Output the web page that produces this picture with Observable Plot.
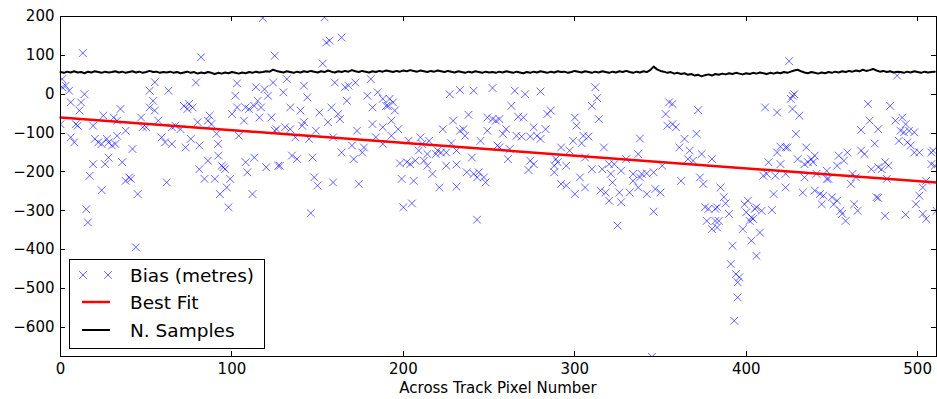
<!DOCTYPE html>
<html><head><meta charset="utf-8">
<script src="https://cdn.jsdelivr.net/npm/d3@7"></script>
<script src="https://cdn.jsdelivr.net/npm/@observablehq/plot@0.6"></script>
<style>
html,body{margin:0;padding:0;background:#fff;}
#chart{width:937px;height:399px;}
</style></head><body><div id="chart"></div>
<script>
const xTicks = [0, 100, 200, 300, 400, 500];
const yTicks = [-600, -500, -400, -300, -200, -100, 0, 100, 200];
const xLabel = "Across Track Pixel Number";
const legendLabels = ["Bias (metres)", "Best Fit", "N. Samples"];

// Best fit line end points
const fitX = [0, 511];
const fitY = [-60, -227];

// N. Samples, one value every 2 pixels (x = 0, 2, 4, ... 510)
const samplesN = [
 57,55,58,56,59,56,57,54,58,56,59,57,55,58,56,57,
 59,56,58,55,57,59,56,58,55,57,60,57,58,55,57,56,
 58,55,57,54,56,58,55,57,53,56,54,57,55,52,55,53,
 56,54,57,55,53,56,54,57,55,58,56,57,59,58,63,60,
 58,56,59,57,55,58,56,59,57,60,58,56,59,57,61,58,
 56,59,57,60,58,62,59,57,60,58,56,59,57,60,58,61,
 59,57,60,58,61,59,62,60,58,61,59,57,60,58,61,59,
 57,60,58,56,59,57,55,58,56,59,57,55,58,56,57,55,
 58,56,59,57,55,58,56,54,57,55,58,56,59,57,55,58,
 56,59,57,58,55,57,60,58,56,59,57,55,58,56,59,57,
 55,58,56,59,57,60,57,55,58,56,59,57,62,71,64,60,
 58,55,57,53,55,52,54,50,52,48,50,46,49,51,48,52,
 50,53,51,54,52,55,53,51,54,52,55,53,56,54,52,55,
 53,56,54,57,55,58,61,63,59,56,54,57,55,53,56,54,
 57,55,58,56,59,57,60,58,61,59,63,60,62,65,61,58,
 60,57,59,56,58,57,55,58,56,59,57,55,58,56,57,58
];

// Bias (metres): [pixel, bias]
const biasPoints = [
 [13,106],[1,39],[3,22],[5,9],[1,18],[6,-21],[0,-77],[9,-77],[10,-81],[11,-42],[12,-21],[14,0],[6,-111],[8,-124],[19,-81],[20,-115],[22,-124],[24,-128],[25,-55],[27,-115],[28,-124],[30,-132],[31,-60],[33,-68],[32,-128],[33,-107],[35,-38],[38,-94],[42,-141],[28,-163],[26,-180],[19,-180],[17,-210],[36,-175],[38,-223],[40,-214],[41,-218],[24,-247],[45,-257],[15,-296],[16,-330],[44,-394],[47,-60],[48,-85],[50,-85],[52,9],[52,-34],[54,-17],[55,-42],[55,31],[57,-68],[59,-111],[61,-124],[62,-227],[63,9],
 [118,196],[82,95],[125,99],[79,30],[103,28],[102,-4],[114,18],[119,13],[121,-4],[124,30],[72,-30],[75,-25],[77,-34],[74,-38],[103,-34],[108,-34],[110,-38],[113,-30],[117,-34],[115,-17],[100,-51],[107,-68],[116,-60],[123,-60],[87,-55],[86,-68],[80,-72],[67,-81],[70,-90],[65,-85],[88,-77],[91,-102],[104,-107],[126,-90],[65,-128],[73,-137],[76,-115],[81,-132],[92,-128],[92,-158],[86,-171],[81,-193],[84,-218],[90,-218],[94,-184],[96,-193],[95,-188],[99,-218],[93,-257],[97,-240],[98,-291],[108,-175],[109,-201],[113,-163],[120,-188],[127,-184],[112,-257],
 [154,198],[155,133],[157,138],[164,146],[153,79],[132,39],[142,22],[130,5],[144,-8],[160,30],[166,18],[168,22],[172,30],[181,39],[179,-4],[185,5],[188,-12],[190,-30],[134,-34],[140,-42],[151,-47],[158,-34],[162,-51],[163,-64],[167,-17],[182,-34],[156,-72],[142,-72],[141,-81],[131,-85],[134,-90],[125,-94],[137,-111],[145,-115],[149,-94],[159,-111],[173,-94],[182,-77],[188,-85],[184,-111],[188,-128],[164,-150],[170,-132],[177,-137],[176,-150],[171,-167],[135,-158],[138,-167],[147,-163],[128,-184],[148,-214],[150,-235],[159,-227],[174,-231],[146,-306],
 [227,0],[233,11],[241,9],[252,16],[192,-12],[194,-21],[195,-42],[193,-68],[191,-30],[197,-90],[193,-107],[238,-53],[229,-68],[249,-60],[252,-64],[254,-68],[223,-90],[233,-94],[235,-90],[236,-107],[245,-120],[249,-94],[203,-120],[210,-111],[211,-128],[215,-120],[220,-145],[228,-126],[231,-145],[209,-145],[214,-154],[219,-154],[222,-150],[225,-150],[240,-163],[256,-137],[198,-178],[202,-175],[204,-180],[207,-171],[212,-171],[214,-184],[217,-205],[225,-184],[231,-181],[237,-201],[241,-205],[244,-201],[247,-214],[243,-214],[248,-227],[199,-218],[206,-223],[221,-240],[231,-238],[200,-291],[205,-281],[243,-323],
 [312,18],[313,-10],[310,-30],[265,9],[271,0],[280,7],[263,-30],[284,-51],[286,-42],[267,-58],[270,-60],[256,-64],[300,-60],[301,-81],[314,-64],[260,-90],[258,-102],[276,-85],[283,-90],[266,-107],[269,-109],[274,-109],[278,-107],[280,-115],[305,-107],[308,-109],[299,-120],[304,-126],[255,-132],[262,-141],[261,-167],[292,-137],[297,-145],[306,-163],[317,-137],[274,-171],[276,-180],[273,-195],[289,-167],[288,-184],[290,-175],[295,-184],[288,-201],[310,-193],[316,-193],[303,-214],[292,-231],[295,-235],[300,-257],[306,-240],[315,-248],[318,-253],[320,-274],
 [357,-25],[355,-21],[372,-41],[353,-51],[354,-81],[357,-77],[359,-85],[338,-114],[337,-154],[364,-115],[371,-102],[361,-137],[367,-145],[366,-167],[369,-171],[374,-154],[380,-167],[351,-184],[320,-180],[323,-180],[330,-167],[327,-197],[334,-205],[338,-214],[339,-205],[342,-204],[346,-201],[321,-205],[322,-227],[326,-253],[327,-278],[332,-253],[334,-223],[337,-240],[342,-257],[347,-244],[350,-253],[362,-223],[373,-214],[375,-231],[346,-302],[325,-338],[376,-291],[378,-295],[382,-295],[377,-326],[380,-347],[382,-326],[345,-676],
 [425,85],[427,-4],[426,-12],[428,0],[411,-34],[418,-47],[427,-38],[431,-55],[429,-102],[420,-135],[423,-137],[424,-137],[418,-150],[413,-175],[420,-180],[430,-167],[435,-137],[436,-175],[438,-167],[439,-175],[440,-158],[434,-180],[410,-210],[412,-205],[417,-210],[423,-205],[434,-214],[441,-205],[447,-218],[416,-257],[423,-240],[433,-253],[440,-248],[443,-257],[445,-261],[444,-283],[415,-298],[385,-240],[387,-265],[388,-281],[383,-291],[390,-308],[384,-326],[383,-343],[399,-283],[401,-274],[400,-304],[405,-295],[406,-291],[398,-347],[402,-326],[403,-317],[404,-321],[409,-300],[408,-356],[403,-377],[406,-416],[392,-390],[391,-437],[394,-463],[396,-471],[395,-484],[395,-523],[393,-583],
 [488,48],[471,-25],[484,-30],[472,-68],[477,-90],[467,-92],[475,-127],[487,-68],[491,-60],[493,-77],[490,-94],[492,-98],[495,-94],[498,-98],[489,-120],[494,-124],[496,-132],[498,-150],[501,-150],[508,-150],[467,-145],[469,-154],[454,-158],[457,-171],[453,-184],[459,-150],[447,-197],[448,-218],[462,-205],[464,-214],[461,-231],[473,-193],[477,-188],[479,-193],[481,-175],[483,-184],[482,-218],[476,-265],[477,-267],[505,-223],[503,-240],[501,-261],[499,-283],[508,-180],[510,-184],[450,-265],[453,-274],[451,-283],[455,-300],[456,-308],[458,-326],[463,-283],[465,-300],[481,-313],[493,-310],[503,-308],[505,-321],[511,-300],[509,-145]
];

const bias = biasPoints.map(([x, y]) => ({x, y}));
const samples = samplesN.map((v, i) => ({x: i * 2, y: v}));
const fit = fitX.map((x, i) => ({x, y: fitY[i]}));

const FONT = "'DejaVu Sans', sans-serif";
const chart = Plot.plot({
  width: 937, height: 399,
  marginLeft: 60, marginRight: 1, marginTop: 16, marginBottom: 43,
  style: {fontFamily: FONT, fontSize: "15px", color: "black", background: "white"},
  x: {domain: [0, 511]},
  y: {domain: [-675, 200]},
  marks: [
    Plot.dot(bias, {x: "x", y: "y", symbol: "times", r: 3.6, stroke: "#0000ff", strokeOpacity: 0.6, strokeWidth: 1, clip: true}),
    Plot.line(fit, {x: "x", y: "y", stroke: "#ff0000", strokeWidth: 2.5}),
    Plot.line(samples, {x: "x", y: "y", stroke: "black", strokeWidth: 2}),
    Plot.axisX({ticks: xTicks, tickSize: 0, tickPadding: 7, label: null}),
    Plot.axisY({ticks: yTicks, tickSize: 0, tickPadding: 6, label: null}),
    Plot.frame({stroke: "black", strokeWidth: 1})
  ]
});
document.getElementById("chart").appendChild(chart);

// inward tick marks on all four sides, x-axis label and legend
const svg = d3.select(chart);
const sx = chart.scale("x"), sy = chart.scale("y");
const L = 60, R = 936, T = 16, B = 356, TL = 5;
const g = svg.append("g").attr("stroke", "black").attr("stroke-width", 1);
xTicks.forEach(v => {
  const px = Math.round(sx.apply(v)) + 0.5;
  g.append("line").attr("x1", px).attr("x2", px).attr("y1", B).attr("y2", B - TL);
  g.append("line").attr("x1", px).attr("x2", px).attr("y1", T).attr("y2", T + TL);
});
yTicks.forEach(v => {
  const py = Math.round(sy.apply(v)) + 0.5;
  g.append("line").attr("x1", L).attr("x2", L + TL).attr("y1", py).attr("y2", py);
  g.append("line").attr("x1", R).attr("x2", R - TL).attr("y1", py).attr("y2", py);
});
svg.append("text").attr("x", (L + R) / 2).attr("y", 388).attr("text-anchor", "middle")
  .attr("dominant-baseline", "central").attr("font-family", FONT).attr("font-size", 15)
  .attr("fill", "black").text(xLabel);

const lg = svg.append("g");
lg.append("rect").attr("x", 69.5).attr("y", 259.5).attr("width", 195).attr("height", 89)
  .attr("fill", "white").attr("stroke", "black").attr("stroke-width", 1);
[83, 108].forEach(cx => {
  lg.append("path").attr("d", `M${cx-3.8},${275-3.8}L${cx+3.8},${275+3.8}M${cx-3.8},${275+3.8}L${cx+3.8},${275-3.8}`)
    .attr("stroke", "#0000ff").attr("stroke-opacity", 0.6).attr("fill", "none");
});
lg.append("line").attr("x1", 82).attr("x2", 110).attr("y1", 302).attr("y2", 302).attr("stroke", "#ff0000").attr("stroke-width", 2.5);
lg.append("line").attr("x1", 82).attr("x2", 110).attr("y1", 330).attr("y2", 330).attr("stroke", "black").attr("stroke-width", 2);
[275, 302, 330].forEach((yy, i) => {
  lg.append("text").attr("x", 130).attr("y", yy).attr("dominant-baseline", "central")
    .attr("text-anchor", "start")
    .attr("font-family", FONT).attr("font-size", 18.5).attr("fill", "black").text(legendLabels[i]);
});
</script></body></html>
